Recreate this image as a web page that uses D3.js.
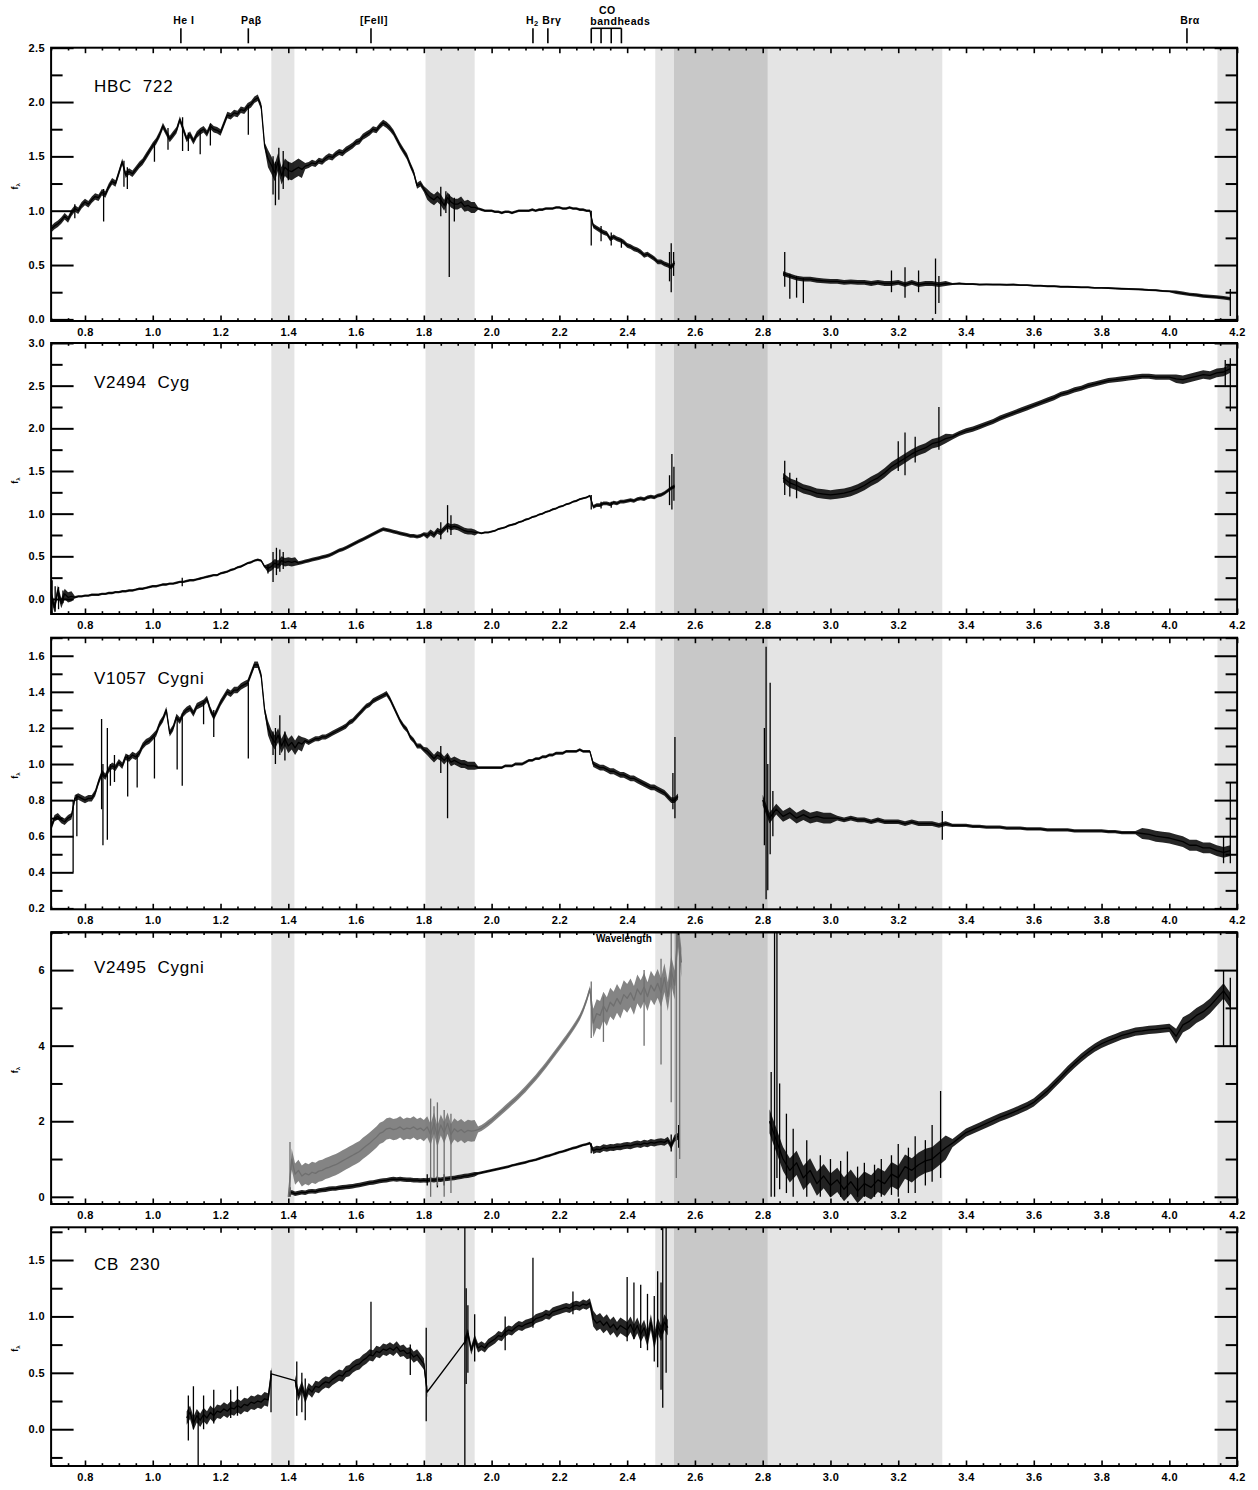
<!DOCTYPE html>
<html>
<head>
<meta charset="utf-8">
<script src="https://cdn.jsdelivr.net/npm/d3@7"></script>
<style>
  body { margin: 0; background: #fff; }
  text { font-family: "Liberation Sans", Arial, sans-serif; }
</style>
</head>
<body>
<svg id="chart" width="1258" height="1490"></svg>
<script>
// ---------------------------------------------------------------------------
// Data: near-infrared spectra, f_lambda versus wavelength (micron).
// Each spectrum is stored as flux samples on a regular wavelength grid
// (start, step), a list of narrow features [wavelength, low, high] and
// the typical noise half-width over wavelength ranges [from, to, halfWidth].
// ---------------------------------------------------------------------------

const X_DOMAIN = [0.7, 4.2];
const X_TICK_LABELS = [0.8, 1.0, 1.2, 1.4, 1.6, 1.8, 2.0, 2.2, 2.4, 2.6, 2.8, 3.0, 3.2, 3.4, 3.6, 3.8, 4.0, 4.2];

const STAR_NAMES = ["HBC  722", "V2494  Cyg", "V1057  Cygni", "V2495  Cygni", "CB  230"];

const Y_DOMAINS = [[-0.015, 2.5], [-0.176, 3.0], [0.195, 1.70], [-0.19, 7.0], [-0.326, 1.79]];
const Y_TICK_LABELS = [
  [0.0, 0.5, 1.0, 1.5, 2.0, 2.5],
  [0.0, 0.5, 1.0, 1.5, 2.0, 2.5, 3.0],
  [0.2, 0.4, 0.6, 0.8, 1.0, 1.2, 1.4, 1.6],
  [0, 2, 4, 6],
  [0.0, 0.5, 1.0, 1.5]
];
const Y_MINOR_STEP = [0.25, 0.25, 0.1, 1, 0.25];

// telluric bands (micron)
const BANDS_LIGHT = [[1.35, 1.418], [1.805, 1.95], [2.483, 2.538], [2.815, 3.33], [4.142, 4.2]];
const BANDS_DARK = [[2.538, 2.815]];

// line identifications along the top
const LINE_IDS = [["He I", 1.083], ["Paβ", 1.282], ["[FeII]", 1.644], ["Brα", 4.052]];
const H2_LINE = 2.122;
const BRG_LINE = 2.166;
const CO_HEADS = [2.294, 2.323, 2.353, 2.383];

// ---- HBC 722 ----
const HBC722_A_START = 0.70;
const HBC722_A = [
  0.83,0.86,0.88,0.91,0.95,0.92,0.98,1.02,1.00,1.05,
  1.08,1.06,1.10,1.13,1.12,1.17,1.15,1.22,1.27,1.25,
  1.35,1.45,1.33,1.36,1.34,1.38,1.42,1.45,1.50,1.55,
  1.60,1.64,1.70,1.78,1.72,1.66,1.70,1.74,1.84,1.75,
  1.66,1.70,1.64,1.70,1.73,1.75,1.71,1.78,1.75,1.74,
  1.72,1.80,1.88,1.87,1.90,1.89,1.93,1.92,1.96,1.98,
  2.02,2.04,1.96,1.60,1.48,1.42,1.35,1.45,1.32,1.40,
  1.37,1.36,1.38,1.40,1.38,1.41,1.42,1.44,1.43,1.46,
  1.45,1.48,1.50,1.49,1.52,1.54,1.53,1.56,1.58,1.60,
  1.63,1.64,1.68,1.70,1.72,1.75,1.74,1.78,1.81,1.79,
  1.76,1.72,1.66,1.60,1.55,1.50,1.42,1.35,1.23,1.25,
  1.20,1.15,1.12,1.10,1.13,1.10,1.05,1.12,1.08,1.06,
  1.06,1.08,1.04,1.05,1.03,1.03,1.02,1.01,1.00,1.00,
  1.00,0.99,0.99,0.98,0.99,0.99,0.98,0.99,1.00,1.00,
  1.00,1.00,1.01,1.00,1.01,1.01,1.02,1.02,1.02,1.03,
  1.03,1.02,1.02,1.03,1.02,1.02,1.01,1.01,1.00,1.00,
  0.86,0.84,0.82,0.80,0.79,0.74,0.76,0.74,0.73,0.71,
  0.68,0.67,0.65,0.64,0.62,0.59,0.60,0.58,0.56,0.53,
  0.53,0.51,0.50,0.48,0.52
];
const HBC722_B_START = 2.86;
const HBC722_B = [
  0.42,0.40,0.38,0.37,0.37,0.36,0.355,0.35,0.35,0.34,
  0.345,0.34,0.34,0.33,0.34,0.33,0.33,0.34,0.32,0.34,
  0.32,0.33,0.33,0.32,0.33,0.325,0.33,0.325,0.325,0.32,
  0.322,0.32,0.32,0.318,0.32,0.315,0.315,0.31,0.31,0.305,
  0.305,0.30,0.30,0.298,0.295,0.295,0.29,0.29,0.288,0.285,
  0.282,0.28,0.278,0.275,0.27,0.268,0.262,0.258,0.25,0.24,
  0.23,0.225,0.215,0.21,0.205,0.20,0.19
];
const HBC722_FEATURES = [
  [0.77,0.93,1.06],[0.855,0.90,1.20],[0.915,1.22,1.46],[0.925,1.20,1.40],[1.005,1.45,1.62],
  [1.045,1.56,1.76],[1.088,1.55,1.86],[1.105,1.55,1.72],[1.14,1.52,1.74],[1.17,1.60,1.80],
  [1.282,1.70,1.97],[1.355,1.15,1.50],[1.362,1.05,1.45],[1.372,1.10,1.58],[1.385,1.20,1.55],
  [1.40,1.28,1.45],[1.85,0.95,1.22],[1.865,0.98,1.18],[1.875,0.39,1.15],[1.89,0.90,1.12],
  [2.294,0.68,1.00],[2.323,0.72,0.86],[2.353,0.68,0.80],[2.383,0.66,0.74],[2.525,0.35,0.62],
  [2.53,0.25,0.70],[2.537,0.40,0.62],[2.865,0.30,0.62],[2.88,0.19,0.42],[2.90,0.20,0.40],
  [2.92,0.15,0.38],[3.18,0.25,0.45],[3.22,0.20,0.48],[3.26,0.25,0.45],[3.31,0.05,0.56],
  [3.32,0.15,0.40],[4.18,0.03,0.28]
];
const HBC722_NOISE = [
  [0.70,1.33,0.03],[1.33,1.44,0.08],[1.44,1.80,0.028],[1.80,1.95,0.05],[1.95,2.29,0.012],
  [2.29,2.55,0.022],[2.85,3.34,0.022],[3.34,4.00,0.009],[4.00,4.20,0.016]
];

// ---- V2494 Cyg ----
const V2494_A_START = 0.70;
const V2494_A = [
  0.05,-0.10,0.10,-0.05,0.06,0.02,0.03,0.02,0.03,0.03,
  0.04,0.04,0.05,0.05,0.05,0.06,0.06,0.07,0.07,0.08,
  0.08,0.09,0.09,0.10,0.10,0.11,0.12,0.12,0.13,0.14,
  0.15,0.15,0.16,0.17,0.17,0.18,0.18,0.19,0.20,0.20,
  0.21,0.22,0.22,0.23,0.24,0.25,0.26,0.27,0.28,0.28,
  0.30,0.31,0.32,0.34,0.35,0.37,0.38,0.40,0.42,0.43,
  0.45,0.46,0.45,0.38,0.36,0.38,0.42,0.40,0.45,0.43,
  0.44,0.43,0.44,0.42,0.43,0.44,0.45,0.46,0.47,0.48,
  0.49,0.50,0.51,0.53,0.55,0.57,0.58,0.60,0.62,0.64,
  0.66,0.68,0.70,0.72,0.74,0.76,0.78,0.80,0.82,0.81,
  0.80,0.79,0.78,0.77,0.76,0.75,0.74,0.74,0.73,0.74,
  0.76,0.74,0.78,0.75,0.80,0.78,0.82,0.86,0.84,0.85,
  0.84,0.82,0.80,0.79,0.79,0.78,0.78,0.77,0.78,0.78,
  0.79,0.80,0.82,0.83,0.84,0.86,0.87,0.88,0.90,0.91,
  0.93,0.94,0.96,0.97,0.99,1.00,1.02,1.03,1.05,1.06,
  1.08,1.09,1.11,1.12,1.14,1.15,1.17,1.18,1.19,1.21,
  1.08,1.10,1.10,1.12,1.12,1.11,1.13,1.12,1.14,1.14,
  1.15,1.16,1.15,1.17,1.18,1.17,1.19,1.20,1.19,1.21,
  1.22,1.24,1.27,1.30,1.32
];
const V2494_B_START = 2.86;
const V2494_B = [
  1.42,1.36,1.33,1.29,1.27,1.24,1.23,1.22,1.23,1.24,
  1.26,1.29,1.33,1.38,1.42,1.48,1.55,1.60,1.65,1.70,
  1.74,1.77,1.82,1.84,1.88,1.90,1.94,1.97,1.99,2.02,
  2.05,2.08,2.12,2.15,2.18,2.21,2.24,2.27,2.30,2.33,
  2.36,2.40,2.42,2.45,2.47,2.50,2.52,2.54,2.56,2.57,
  2.58,2.59,2.60,2.61,2.61,2.60,2.60,2.60,2.58,2.57,
  2.59,2.61,2.63,2.62,2.65,2.66,2.70
];
const V2494_FEATURES = [
  [0.703,-0.22,0.22],[0.712,-0.15,0.15],[0.722,-0.12,0.14],[0.735,-0.05,0.10],[1.087,0.15,0.25],
  [1.34,0.30,0.40],[1.355,0.20,0.55],[1.365,0.28,0.60],[1.375,0.32,0.58],[1.385,0.35,0.55],
  [1.85,0.70,0.90],[1.87,0.78,1.10],[1.88,0.75,0.98],[2.294,1.05,1.22],[2.323,1.06,1.14],
  [2.353,1.07,1.14],[2.525,1.10,1.45],[2.532,1.05,1.70],[2.538,1.15,1.55],[2.865,1.22,1.62],
  [2.88,1.20,1.48],[2.90,1.18,1.42],[3.20,1.50,1.85],[3.22,1.45,1.95],[3.25,1.60,1.90],
  [3.32,1.75,2.25],[4.165,2.50,2.80],[4.18,2.20,2.82]
];
const V2494_NOISE = [
  [0.70,0.76,0.06],[0.76,1.33,0.014],[1.33,1.42,0.05],[1.42,1.80,0.022],[1.80,1.95,0.035],
  [1.95,2.29,0.012],[2.29,2.55,0.022],[2.85,3.34,0.055],[3.34,4.00,0.03],[4.00,4.20,0.05]
];

// ---- V1057 Cygni ----
const V1057_A_START = 0.70;
const V1057_A = [
  0.65,0.70,0.71,0.69,0.68,0.70,0.71,0.81,0.82,0.81,
  0.80,0.81,0.81,0.84,0.90,0.95,0.93,0.97,0.99,0.98,
  1.01,0.99,1.04,1.03,1.05,1.04,1.06,1.10,1.12,1.13,
  1.15,1.17,1.22,1.25,1.30,1.17,1.20,1.26,1.24,1.28,
  1.30,1.31,1.28,1.32,1.33,1.34,1.36,1.30,1.26,1.30,
  1.34,1.37,1.40,1.39,1.41,1.41,1.43,1.44,1.45,1.50,
  1.55,1.55,1.49,1.30,1.20,1.15,1.12,1.16,1.10,1.14,
  1.10,1.12,1.09,1.12,1.11,1.13,1.12,1.13,1.14,1.14,
  1.15,1.15,1.16,1.17,1.18,1.19,1.20,1.21,1.23,1.24,
  1.26,1.28,1.30,1.32,1.33,1.35,1.36,1.37,1.38,1.39,
  1.36,1.32,1.28,1.24,1.21,1.19,1.15,1.13,1.10,1.10,
  1.08,1.07,1.05,1.03,1.05,1.04,1.02,1.04,1.01,1.02,
  1.01,1.00,1.00,0.99,0.99,0.99,0.98,0.98,0.98,0.98,
  0.98,0.98,0.98,0.98,0.99,0.99,0.99,1.00,1.00,1.00,
  1.01,1.02,1.02,1.03,1.03,1.04,1.04,1.05,1.05,1.06,
  1.06,1.06,1.07,1.07,1.07,1.07,1.08,1.07,1.07,1.07,
  1.00,0.99,0.98,0.98,0.97,0.96,0.96,0.95,0.94,0.94,
  0.93,0.92,0.92,0.91,0.90,0.89,0.88,0.87,0.87,0.86,
  0.85,0.84,0.82,0.80,0.80,0.82
];
const V1057_B_START = 2.80;
const V1057_B = [
  0.80,0.70,0.75,0.71,0.73,0.70,0.72,0.70,0.71,0.70,
  0.70,0.70,0.69,0.70,0.69,0.69,0.68,0.69,0.68,0.68,
  0.68,0.67,0.68,0.67,0.67,0.67,0.66,0.67,0.66,0.66,
  0.66,0.655,0.655,0.65,0.65,0.65,0.645,0.645,0.645,0.64,
  0.64,0.64,0.635,0.635,0.635,0.635,0.63,0.63,0.63,0.63,
  0.63,0.625,0.625,0.62,0.62,0.62,0.615,0.61,0.60,0.595,
  0.59,0.58,0.57,0.55,0.55,0.535,0.535,0.52,0.51,0.52
];
const V1057_FEATURES = [
  [0.765,0.40,0.80],[0.776,0.60,0.83],[0.849,0.75,1.25],[0.853,0.55,1.00],[0.866,0.58,1.20],
  [0.875,0.88,1.00],[0.887,0.90,1.05],[0.926,0.82,1.05],[0.954,0.87,1.05],[1.005,0.92,1.15],
  [1.072,0.97,1.25],[1.087,0.88,1.28],[1.15,1.22,1.35],[1.18,1.15,1.30],[1.282,1.03,1.45],
  [1.355,1.05,1.18],[1.362,1.00,1.20],[1.375,1.05,1.27],[1.39,1.02,1.18],[1.85,0.95,1.10],
  [1.87,0.70,1.05],[2.535,0.75,0.95],[2.541,0.70,1.15],[2.805,0.55,1.20],[2.81,0.25,1.65],
  [2.815,0.30,1.00],[2.822,0.50,1.45],[2.83,0.60,0.85],[3.33,0.58,0.74],[4.16,0.45,0.60],
  [4.18,0.45,0.90]
];
const V1057_NOISE = [
  [0.70,1.33,0.018],[1.33,1.44,0.04],[1.44,1.80,0.014],[1.80,1.95,0.022],[1.95,2.29,0.008],
  [2.29,2.56,0.016],[2.79,3.00,0.03],[3.00,3.34,0.013],[3.34,3.90,0.009],[3.90,4.20,0.03]
];

// ---- V2495 Cygni (black and grey spectra) ----
const V2495_A_START = 1.40;
const V2495_A = [
  0.05,0.12,0.08,0.10,0.12,0.11,0.14,0.15,0.14,0.17,
  0.18,0.19,0.21,0.22,0.22,0.24,0.25,0.26,0.27,0.28,
  0.30,0.31,0.33,0.35,0.37,0.38,0.40,0.42,0.43,0.44,
  0.46,0.47,0.46,0.47,0.46,0.45,0.45,0.44,0.44,0.43,
  0.44,0.43,0.45,0.44,0.46,0.45,0.47,0.48,0.49,0.50,
  0.52,0.53,0.55,0.56,0.58,0.60,0.62,0.64,0.66,0.68,
  0.70,0.72,0.74,0.76,0.78,0.80,0.83,0.85,0.87,0.89,
  0.91,0.94,0.96,0.98,1.01,1.04,1.07,1.09,1.12,1.15,
  1.18,1.20,1.23,1.26,1.29,1.31,1.34,1.37,1.39,1.42,
  1.22,1.26,1.25,1.30,1.28,1.31,1.30,1.33,1.32,1.35,
  1.36,1.35,1.38,1.40,1.38,1.42,1.40,1.44,1.42,1.45,
  1.46,1.44,1.50,1.35,1.55,1.60
];
const V2495_B_START = 2.82;
const V2495_B = [
  2.00,1.50,1.00,0.70,0.90,0.50,0.70,0.35,0.55,
  0.30,0.45,0.20,0.40,0.15,0.35,0.25,0.45,0.35,0.60,
  0.50,0.80,0.70,0.85,0.95,1.00,1.15,1.30,1.42,1.56,
  1.70,1.78,1.86,1.94,2.02,2.10,2.17,2.24,2.32,2.40,
  2.50,2.65,2.80,2.98,3.16,3.35,3.52,3.68,3.82,3.95,
  4.05,4.13,4.20,4.27,4.32,4.37,4.39,4.42,4.43,4.45,
  4.47,4.25,4.55,4.65,4.80,4.90,5.05,5.25,5.45,5.20
];
const V2495_GREY_START = 1.40;
const V2495_GREY = [
  0.00,1.00,0.60,0.70,0.55,0.62,0.58,0.65,0.62,0.68,
  0.70,0.75,0.78,0.82,0.85,0.90,0.95,1.00,1.05,1.10,
  1.15,1.20,1.28,1.35,1.42,1.50,1.58,1.68,1.72,1.80,
  1.82,1.78,1.80,1.85,1.78,1.82,1.80,1.85,1.78,1.82,
  1.75,1.85,1.65,1.95,1.60,1.90,1.70,1.95,1.65,1.80,
  1.72,1.78,1.70,1.76,1.74,1.75,1.78,1.82,1.88,1.95,
  2.02,2.10,2.18,2.26,2.34,2.42,2.50,2.58,2.67,2.76,
  2.85,2.95,3.05,3.15,3.26,3.37,3.48,3.60,3.72,3.84,
  3.96,4.08,4.20,4.33,4.46,4.60,4.75,4.95,5.20,5.50,
  4.60,4.85,4.80,5.05,4.90,5.15,5.05,5.25,5.10,5.35,
  5.25,5.40,5.20,5.50,5.35,5.55,5.30,5.60,5.45,5.65,
  5.40,5.80,5.30,6.00,5.60,7.00,6.20
];
const V2495_FEATURES = [
  [1.405,0.00,0.25],[1.81,0.30,0.60],[1.84,0.25,0.55],[1.86,0.30,0.60],[2.294,1.15,1.42],
  [2.53,1.20,1.65],[2.552,1.30,1.90],[2.825,0.00,3.30],[2.835,0.00,7.00],[2.842,0.50,7.00],
  [2.85,0.20,3.00],[2.87,0.10,2.20],[2.89,0.00,1.80],[2.93,0.00,1.50],[2.97,0.00,1.10],
  [3.00,0.00,1.00],[3.03,0.00,0.95],[3.05,0.00,1.20],[3.08,0.00,0.80],[3.10,0.00,0.90],
  [3.13,0.00,0.85],[3.15,0.00,1.00],[3.18,0.05,1.10],[3.20,0.00,1.40],[3.23,0.10,1.30],
  [3.25,0.10,1.60],[3.28,0.30,1.50],[3.30,0.40,1.90],[3.325,0.50,2.80],[4.16,4.00,6.00],
  [4.18,4.00,5.80]
];
const V2495_NOISE = [
  [1.40,1.95,0.06],[1.95,2.29,0.035],[2.29,2.56,0.09],[2.81,3.34,0.32],[3.34,4.00,0.11],[4.00,4.20,0.2]
];
const V2495_GREY_FEATURES = [
  [1.405,0.00,1.45],[1.82,0.00,2.60],[1.83,0.50,2.40],[1.84,0.30,2.50],[1.86,0.00,2.30],
  [1.88,0.10,2.20],[2.294,4.20,5.70],[2.33,4.10,5.30],[2.45,4.00,6.00],[2.50,3.50,6.30],
  [2.53,2.50,7.00],[2.545,0.50,7.00],[2.555,1.00,6.50]
];
const V2495_GREY_NOISE = [[1.41,1.95,0.28],[1.95,2.29,0.08],[2.29,2.56,0.38]];

// ---- CB 230 (one continuous trace across the gaps) ----
const CB230_A_START = 1.10;
const CB230_A = [
  0.10,0.15,0.05,0.12,0.08,0.13,0.10,0.15,0.12,0.16,
  0.15,0.18,0.16,0.19,0.18,0.21,0.19,0.22,0.21,0.24,
  0.23,0.25,0.24,0.27,0.26,0.49
];
const CB230_B_START = 1.42;
const CB230_B = [
  0.43,0.30,0.38,0.28,0.36,0.33,0.38,0.37,
  0.40,0.42,0.41,0.44,0.46,0.48,0.47,0.51,0.52,0.55,
  0.57,0.58,0.61,0.63,0.66,0.65,0.69,0.68,0.71,0.70,
  0.72,0.70,0.73,0.69,0.70,0.67,0.68,0.64,0.66,0.62,
  0.58,0.33
];
const CB230_C_START = 1.92;
const CB230_C = [
  0.77,0.85,0.70,0.80,0.72,0.74,0.72,0.76,
  0.78,0.80,0.83,0.82,0.86,0.88,0.87,0.90,0.92,0.91,
  0.93,0.94,0.95,0.98,0.99,1.00,1.02,1.01,1.04,1.05,
  1.06,1.07,1.08,1.07,1.09,1.10,1.09,1.11,1.10,1.12,
  0.98,0.94,0.96,0.92,0.95,0.90,0.93,0.88,0.92,0.90,
  0.88,0.93,0.86,0.92,0.84,0.90,0.80,0.95,0.78,0.92,
  0.85,0.95,0.90
];
const CB230_FEATURES = [
  [1.105,-0.10,0.30],[1.12,0.00,0.38],[1.134,-0.35,0.15],[1.15,0.00,0.30],[1.18,0.05,0.35],
  [1.23,0.10,0.35],[1.25,0.12,0.38],[1.349,0.15,0.52],[1.425,0.12,0.60],[1.44,0.15,0.50],
  [1.45,0.08,0.45],[1.644,0.65,1.13],[1.76,0.48,0.75],[1.807,0.07,0.90],[1.921,-0.33,1.80],
  [1.925,0.40,1.25],[1.93,0.50,1.10],[1.95,0.60,1.02],[2.04,0.70,1.00],[2.122,0.90,1.52],
  [2.24,1.02,1.22],[2.40,0.78,1.35],[2.42,0.80,1.30],[2.44,0.72,1.28],[2.46,0.70,1.20],
  [2.48,0.60,1.18],[2.49,0.55,1.40],[2.50,0.35,1.30],[2.505,0.19,1.80],[2.515,0.50,1.80]
];
const CB230_NOISE = [[1.10,1.35,0.06],[1.42,1.81,0.05],[1.92,2.29,0.04],[2.29,2.53,0.07]];

// Series wiring for each panel
const PANEL_SERIES = [
  [{ segments: [[HBC722_A_START, 0.01, HBC722_A], [HBC722_B_START, 0.02, HBC722_B]], features: HBC722_FEATURES, noise: HBC722_NOISE, color: "#000" }],
  [{ segments: [[V2494_A_START, 0.01, V2494_A], [V2494_B_START, 0.02, V2494_B]], features: V2494_FEATURES, noise: V2494_NOISE, color: "#000" }],
  [{ segments: [[V1057_A_START, 0.01, V1057_A], [V1057_B_START, 0.02, V1057_B]], features: V1057_FEATURES, noise: V1057_NOISE, color: "#000" }],
  [
    { segments: [[V2495_A_START, 0.01, V2495_A], [V2495_B_START, 0.02, V2495_B]], features: V2495_FEATURES, noise: V2495_NOISE, color: "#000" },
    { segments: [[V2495_GREY_START, 0.01, V2495_GREY]], features: V2495_GREY_FEATURES, noise: V2495_GREY_NOISE, color: "#6f6f6f" }
  ],
  [{ segments: [[CB230_A_START, 0.01, CB230_A], [CB230_B_START, 0.01, CB230_B], [CB230_C_START, 0.01, CB230_C]],
     features: CB230_FEATURES, noise: CB230_NOISE, color: "#000", joined: true }]
];

// ---------------------------------------------------------------------------
// Layout
// ---------------------------------------------------------------------------
const LAYOUT = [
  { top: 47.7, bottom: 321 },
  { top: 343, bottom: 614 },
  { top: 637.7, bottom: 909.3 },
  { top: 932.3, bottom: 1204 },
  { top: 1227.3, bottom: 1466 }
];
const LABEL_OFFSET = [44.3, 45, 46.3, 40.2, 42.7];
const PLOT_LEFT = 51.1, PLOT_RIGHT = 1237.1;

const svg = d3.select("#chart");
svg.append("rect").attr("width", 1258).attr("height", 1490).attr("fill", "#fff");

const x = d3.scaleLinear().domain(X_DOMAIN).range([PLOT_LEFT, PLOT_RIGHT]);

function segmentPoints(seg) {
  const [start, step, flux] = seg;
  return flux.map((f, i) => [+(start + i * step).toFixed(4), f]);
}
function halfWidth(ranges, wl) {
  const r = ranges.find(r => wl >= r[0] - 1e-6 && wl <= r[1] + 1e-6);
  return r ? r[2] : 0;
}

const xMinor = d3.range(0.70, 4.2001, 0.05).map(v => +v.toFixed(2))
  .filter(v => !X_TICK_LABELS.some(t => Math.abs(t - v) < 1e-6));

LAYOUT.forEach((L, i) => {
  const g = svg.append("g");
  const y = d3.scaleLinear().domain(Y_DOMAINS[i]).range([L.bottom, L.top]);

  const clipId = "plot-clip-" + i;
  svg.append("clipPath").attr("id", clipId).append("rect")
    .attr("x", PLOT_LEFT).attr("y", L.top)
    .attr("width", PLOT_RIGHT - PLOT_LEFT).attr("height", L.bottom - L.top);

  const plot = g.append("g").attr("clip-path", `url(#${clipId})`);

  plot.selectAll("rect.light").data(BANDS_LIGHT).join("rect")
    .attr("class", "light")
    .attr("x", d => x(d[0])).attr("width", d => x(d[1]) - x(d[0]))
    .attr("y", L.top).attr("height", L.bottom - L.top)
    .attr("fill", "#e4e4e4");
  plot.selectAll("rect.dark").data(BANDS_DARK).join("rect")
    .attr("class", "dark")
    .attr("x", d => x(d[0])).attr("width", d => x(d[1]) - x(d[0]))
    .attr("y", L.top).attr("height", L.bottom - L.top)
    .attr("fill", "#c8c8c8");

  const line = d3.line().x(d => x(d[0])).y(d => y(d[1]));
  const band = d3.area().x(d => x(d[0]))
    .y0(d => y(d[1] - d[2])).y1(d => y(d[1] + d[2]));

  PANEL_SERIES[i].forEach(s => {
    // noise envelope of each sampled segment
    s.segments.forEach(seg => {
      const pts = segmentPoints(seg).map(p => [p[0], p[1], halfWidth(s.noise, p[0])]);
      plot.append("path").attr("d", band(pts))
        .attr("fill", s.color).attr("fill-opacity", 0.85).attr("stroke", "none");
    });
    // the spectrum itself
    const traces = s.joined
      ? [s.segments.flatMap(segmentPoints)]
      : s.segments.map(segmentPoints);
    traces.forEach(pts => {
      plot.append("path").attr("d", line(pts))
        .attr("fill", "none").attr("stroke", s.color)
        .attr("stroke-width", 1.3).attr("stroke-linejoin", "round");
    });
    // narrow lines and noise spikes
    plot.selectAll(null).data(s.features).join("line")
      .attr("x1", d => x(d[0])).attr("x2", d => x(d[0]))
      .attr("y1", d => y(d[1])).attr("y2", d => y(d[2]))
      .attr("stroke", s.color).attr("stroke-width", 1.3);
  });

  // minor y ticks
  const [d0, d1] = Y_DOMAINS[i];
  const st = Y_MINOR_STEP[i];
  const yMinor = d3.range(Math.ceil(d0 / st - 1e-9) * st, d1 + 1e-9, st)
    .map(v => +v.toFixed(3))
    .filter(v => !Y_TICK_LABELS[i].some(t => Math.abs(t - v) < 1e-6));

  const fmt = i === 3 ? d3.format("d") : d3.format(".1f");

  const axes = [
    { ax: d3.axisBottom(x).tickValues(X_TICK_LABELS).tickSizeInner(-5.5).tickSizeOuter(0).tickPadding(7).tickFormat(d3.format(".1f")), t: `translate(0,${L.bottom})`, w: 1.6 },
    { ax: d3.axisBottom(x).tickValues(xMinor).tickSizeInner(-2.8).tickSizeOuter(0).tickFormat(""), t: `translate(0,${L.bottom})`, w: 1.6 },
    { ax: d3.axisTop(x).tickValues(X_TICK_LABELS).tickSizeInner(-5.5).tickSizeOuter(0).tickFormat(""), t: `translate(0,${L.top})`, w: 1.6 },
    { ax: d3.axisTop(x).tickValues(xMinor).tickSizeInner(-2.8).tickSizeOuter(0).tickFormat(""), t: `translate(0,${L.top})`, w: 1.6 },
    { ax: d3.axisLeft(y).tickValues(Y_TICK_LABELS[i]).tickSizeInner(-22.5).tickSizeOuter(0).tickPadding(6).tickFormat(fmt), t: `translate(${PLOT_LEFT},0)`, w: 2 },
    { ax: d3.axisLeft(y).tickValues(yMinor).tickSizeInner(-11.5).tickSizeOuter(0).tickFormat(""), t: `translate(${PLOT_LEFT},0)`, w: 2 },
    { ax: d3.axisRight(y).tickValues(Y_TICK_LABELS[i]).tickSizeInner(-22.5).tickSizeOuter(0).tickFormat(""), t: `translate(${PLOT_RIGHT},0)`, w: 2 },
    { ax: d3.axisRight(y).tickValues(yMinor).tickSizeInner(-11.5).tickSizeOuter(0).tickFormat(""), t: `translate(${PLOT_RIGHT},0)`, w: 2 }
  ];
  axes.forEach(a => {
    const ag = g.append("g").attr("transform", a.t).call(a.ax);
    ag.select(".domain").remove();
    ag.selectAll(".tick line").attr("stroke", "#000").attr("stroke-width", a.w);
    ag.selectAll(".tick text")
      .attr("fill", "#000")
      .style("font-family", "'Liberation Sans', Arial, sans-serif")
      .style("font-size", "11px").style("font-weight", "bold")
      .style("letter-spacing", "0.4px");
  });

  // frame
  g.append("rect")
    .attr("x", PLOT_LEFT).attr("y", L.top)
    .attr("width", PLOT_RIGHT - PLOT_LEFT).attr("height", L.bottom - L.top)
    .attr("fill", "none").attr("stroke", "#000").attr("stroke-width", 2);

  // star name
  g.append("text")
    .attr("x", 94).attr("y", L.top + LABEL_OFFSET[i])
    .attr("xml:space", "preserve").style("white-space", "pre")
    .style("font-size", "17px").style("letter-spacing", "0.7px")
    .attr("fill", "#000")
    .text(STAR_NAMES[i]);

  // y-axis title f_lambda
  const yt = g.append("text")
    .attr("transform", `translate(18,${(L.top + L.bottom) / 2 + 2}) rotate(-90)`)
    .attr("text-anchor", "middle")
    .style("font-size", "9px").style("font-weight", "bold").attr("fill", "#000");
  yt.append("tspan").text("f");
  yt.append("tspan").attr("dy", 2).style("font-size", "6px").text("λ");
});

// x-axis title, partly hidden under the fourth panel's frame
svg.append("text")
  .attr("x", 596).attr("y", 941.5)
  .style("font-size", "10px").style("font-weight", "bold").attr("fill", "#000")
  .text("Wavelength");
svg.append("line").attr("x1", PLOT_LEFT).attr("x2", PLOT_RIGHT)
  .attr("y1", LAYOUT[3].top).attr("y2", LAYOUT[3].top)
  .attr("stroke", "#000").attr("stroke-width", 2);

// ---------------------------------------------------------------------------
// Line identifications above the top panel
// ---------------------------------------------------------------------------
const idG = svg.append("g").attr("fill", "#000");
const labelStyle = sel => sel.style("font-size", "10.5px").style("font-weight", "bold").style("letter-spacing", "0.5px");

LINE_IDS.forEach(([lab, wl]) => {
  idG.append("line").attr("x1", x(wl)).attr("x2", x(wl)).attr("y1", 28.3).attr("y2", 43.3)
    .attr("stroke", "#000").attr("stroke-width", 1.6);
  idG.append("text").attr("x", x(wl) + 3).attr("y", 23.5).attr("text-anchor", "middle")
    .call(labelStyle).text(lab);
});

[H2_LINE, BRG_LINE].forEach(wl => {
  idG.append("line").attr("x1", x(wl)).attr("x2", x(wl)).attr("y1", 28.3).attr("y2", 43.3)
    .attr("stroke", "#000").attr("stroke-width", 1.6);
});
const h2 = idG.append("text").attr("x", x(H2_LINE) - 7).attr("y", 23.5).call(labelStyle);
h2.append("tspan").text("H");
h2.append("tspan").attr("dy", 2.5).style("font-size", "7.5px").text("2");
idG.append("text").attr("x", x(BRG_LINE) + 4).attr("y", 23.5).attr("text-anchor", "middle")
  .call(labelStyle).text("Brγ");

CO_HEADS.forEach(wl => {
  idG.append("line").attr("x1", x(wl)).attr("x2", x(wl)).attr("y1", 28.3).attr("y2", 43.3)
    .attr("stroke", "#000").attr("stroke-width", 1.6);
});
idG.append("line").attr("x1", x(CO_HEADS[0])).attr("x2", x(CO_HEADS[CO_HEADS.length - 1]))
  .attr("y1", 28.3).attr("y2", 28.3).attr("stroke", "#000").attr("stroke-width", 1.6);
const coMid = (x(CO_HEADS[0]) + x(CO_HEADS[CO_HEADS.length - 1])) / 2;
idG.append("text").attr("x", coMid + 1).attr("y", 14).attr("text-anchor", "middle").call(labelStyle).text("CO");
idG.append("text").attr("x", coMid + 14).attr("y", 24.5).attr("text-anchor", "middle").call(labelStyle).text("bandheads");
</script>
</body>
</html>
